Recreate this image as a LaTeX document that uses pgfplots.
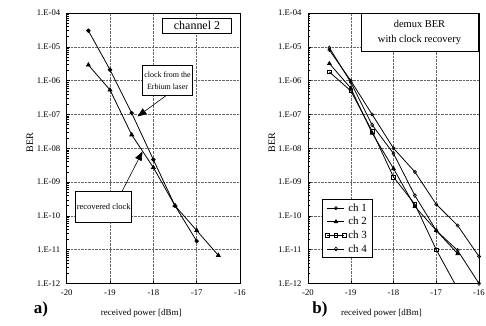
\documentclass[border=0pt]{standalone}
\usepackage{fontspec}
\setmainfont{Liberation Serif}
\usepackage{pgfplots}
\pgfplotsset{compat=1.18}
\usetikzlibrary{arrows.meta}
\pgfplotsset{
  berax/.style={
    scale only axis, anchor=south west,
    height=270.5bp,
    xmin=-20, xmax=-16, ymin=1e-12, ymax=1e-4,
    xtick={-20,-19,-18,-17,-16}, xticklabels={-20,-19,-18,-17,-16},
    ytick={1e-12,1e-11,1e-10,1e-9,1e-8,1e-7,1e-6,1e-5,1e-4},
    yticklabels={1.E-12,1.E-11,1.E-10,1.E-09,1.E-08,1.E-07,1.E-06,1.E-05,1.E-04},
    grid=major, major grid style={densely dotted, black!60, line width=0.5pt},
    axis line style={line width=0.9pt},
    tick pos=left, tick align=inside,
    major tick length=3bp, minor tick length=1.8bp,
    every tick/.style={black, line width=0.5pt},
    tick label style={font=\fontsize{8.7}{9}\selectfont},
    yticklabel style={xshift=-3bp},
    xticklabel style={yshift=-3bp},
    xlabel={received power [dBm]}, ylabel={BER},
    label style={font=\fontsize{9}{10}\selectfont},
    xlabel style={at={(axis description cs:0.43,0)}, anchor=center, yshift=-29.5bp},
    ylabel style={at={(axis description cs:-0.212,0.52)}, anchor=center, font=\fontsize{10}{11}\selectfont},
    every axis plot/.append style={black, line width=0.8pt},
  }
}
\begin{document}
\begin{tikzpicture}[x=1bp,y=1bp]
\useasboundingbox (0,0) rectangle (486,325);
% ---------- a) ----------
\begin{semilogyaxis}[berax, width=173.3bp, at={(66.7bp,41.5bp)}]
\addplot[mark=*, mark size=1.8pt] coordinates {
 (-19.5,3e-5) (-19,2.1e-6) (-18.5,1.1e-7) (-18,4.6e-9) (-17.5,2e-10) (-17,1.8e-11)};
\addplot[mark=triangle*, mark size=2.2pt] coordinates {
 (-19.5,2.9e-6) (-19,5.3e-7) (-18.5,2.5e-8) (-18,2.7e-9) (-17.5,2e-10) (-17,3.7e-11) (-16.5,6.8e-12)};
\end{semilogyaxis}
% ---------- b) ----------
\begin{semilogyaxis}[berax, width=171bp, at={(308bp,41.5bp)},
  legend style={at={(rel axis cs:0.084,0.311)}, anchor=north west,
    font=\fontsize{11}{12}\selectfont, draw=black, line width=0.6pt,
    row sep=0.5bp, inner xsep=3bp, inner ysep=2bp},
  legend cell align=left]
\addplot[mark=o, mark size=1.6pt, mark options={fill=white, line width=0.6pt}] coordinates {
 (-19.5,8e-6) (-19,1e-6) (-18.5,1e-7) (-18,1e-8) (-17.5,2e-9) (-17,2.2e-10) (-16.5,5.2e-11) (-16,6.3e-12)};
\addlegendentry{ch 1}
\addplot[mark=triangle*, mark size=2pt] coordinates {
 (-19.5,3.2e-6) (-19,6e-7) (-18.5,2.8e-8) (-18,2.5e-9) (-17.5,1.9e-10) (-17,3.7e-11) (-16.5,7.6e-12)};
\addlegendentry{ch 2}
\addplot[mark=square, mark size=1.8pt, mark options={fill=white, line width=0.6pt}, mark indices={1,2,3,4,5,6}] coordinates {
 (-19.5,1.8e-6) (-19,5e-7) (-18.5,3.2e-8) (-18,1.4e-9) (-17.5,2.2e-10) (-17,1e-11) (-16.5,7e-13)};
\addlegendentry{ch 3}
\addplot[mark=diamond, mark size=2pt, mark options={fill=white, line width=0.6pt}] coordinates {
 (-19.5,9.3e-6) (-19,9e-7) (-18.5,4.9e-8) (-18,7e-9) (-17.5,4e-10) (-17,3.7e-11) (-16.5,9.5e-12) (-16,1e-12)};
\addlegendentry{ch 4}
\end{semilogyaxis}
% ---------- annotations ----------
\tikzset{box/.style={draw=black, line width=0.6pt, fill=white, inner sep=1bp, align=center}}
\node[box, minimum width=69bp, minimum height=15bp, font=\fontsize{12}{13}\selectfont] at (197,299.2) {channel 2};
\node[box, minimum width=50bp, minimum height=30bp, font=\fontsize{8}{12}\selectfont] at (167.5,244.3) {clock from the\\Erbium laser};
\node[box, minimum width=56bp, minimum height=31bp, font=\fontsize{8.5}{9}\selectfont] at (103.7,118) {recovered clock};
\draw[line width=0.6pt, -{Triangle[length=9bp,width=7bp]}] (166,229.3) -- (137.5,208.5);
\draw[line width=0.6pt, -{Triangle[length=9bp,width=7bp]}] (121.7,133) -- (142.5,173.5);
\node[box, minimum width=117bp, minimum height=38bp, font=\fontsize{10.5}{14.3}\selectfont] at (419.5,292.5) {demux BER\\with clock recovery};
\node[font=\fontsize{17}{18}\selectfont\bfseries] at (41,16) {a)};
\node[font=\fontsize{17}{18}\selectfont\bfseries] at (320,16) {b)};
\end{tikzpicture}
\end{document}
